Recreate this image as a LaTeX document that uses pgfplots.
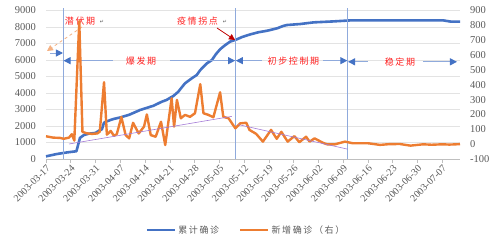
\documentclass[border=0pt]{standalone}
\usepackage{pgfplots}
\pgfplotsset{compat=1.18}
\usepackage{fontspec}
\setmainfont{Liberation Serif}
\newfontfamily\cjk[LetterSpace=18]{Noto Sans CJK SC}
\newfontfamily\dejavu{DejaVu Sans}
\usetikzlibrary{arrows.meta}
\definecolor{cblue}{HTML}{4472C4}
\definecolor{corange}{HTML}{ED7D31}
\definecolor{cgrid}{HTML}{E3E3E3}
\definecolor{caxis}{HTML}{BFBFBF}
\definecolor{ctext}{HTML}{595959}
\definecolor{cpurple}{HTML}{A47BD6}
\definecolor{carrow}{HTML}{8FAADC}
\definecolor{cred}{HTML}{FF2020}
\definecolor{cdarkred}{HTML}{C00000}
\definecolor{clorange}{HTML}{F4B183}
\definecolor{cvline}{HTML}{8FAADC}
\begin{document}
\begin{tikzpicture}
\useasboundingbox (0,0) rectangle (500pt,240pt);
\begin{axis}[
  at={(46pt,81pt)}, anchor=south west,
  scale only axis, width=414pt, height=148.5pt,
  xmin=0, xmax=117, ymin=0, ymax=9000,
  clip=false,
  axis x line*=bottom, axis y line*=left,
  y axis line style={draw=none},
  x axis line style={draw=caxis, line width=0.8pt},
  xtick={0,7,...,112},
  xticklabels={2003-03-17,2003-03-24,2003-03-31,2003-04-07,2003-04-14,2003-04-21,2003-04-28,2003-05-05,2003-05-12,2003-05-19,2003-05-26,2003-06-02,2003-06-09,2003-06-16,2003-06-23,2003-06-30,2003-07-07},
  x tick label style={rotate=45, anchor=north east, font=\fontsize{10}{12}\selectfont, text=ctext, inner sep=1pt},
  ytick={0,1000,...,9000},
  y tick label style={font=\fontsize{10.5}{12}\selectfont, text=ctext, xshift=-2.5pt},
  ymajorgrids, grid style={cgrid, line width=0.6pt},
  tick align=outside, major tick length=4pt,
  xtick style={draw=caxis, line width=0.6pt},
  ytick style={draw=none},
  /pgf/number format/assume math mode=true,
  /pgf/number format/1000 sep={},
]
\addplot[cblue, line width=2.6pt, line join=round] coordinates {
(0,160) (3,300) (6,400) (8.6,470) (9.6,1280) (10.7,1450) (12,1530) (14,1580)
(15,1720) (15.8,1800) (16.4,2200) (17,2270) (19,2420) (21,2520) (23.5,2680)
(26.6,2970) (28.5,3100) (30.4,3230) (32.7,3470) (34.1,3580) (35,3700) (36,3820)
(37.4,4080) (38.2,4300) (39.3,4590) (41.2,4890) (42.6,5090) (43.6,5390)
(45.5,5800) (46.9,6000) (48,6350) (49.2,6650) (50.5,6880) (52,7110) (53.9,7250)
(55.5,7400) (57.7,7550) (60,7680) (62.4,7770) (64,7850) (65.3,7920) (67,8060)
(68.1,8120) (71.8,8180) (75.6,8280) (81.3,8340) (86,8400) (112.3,8400)
(114.3,8330) (117,8330)
};
% vertical phase lines
\draw[cvline, line width=0.8pt] (axis cs:4.89,0) -- (axis cs:4.89,9152);
\draw[cvline, line width=0.8pt] (axis cs:53.55,0) -- (axis cs:53.55,9152);
\draw[cvline, line width=0.8pt] (axis cs:85.26,0) -- (axis cs:85.26,9152);
% phase arrows
\draw[carrow, line width=1pt, -{Triangle[length=7pt,width=7pt,fill=cblue,color=cblue]}] (axis cs:1.13,6424) -- (axis cs:4.8,6424);
\draw[carrow, line width=1pt, {Triangle[length=7pt,width=7pt,fill=cblue,color=cblue]}-] (axis cs:4.95,5960) -- (axis cs:18.93,5960);
\draw[carrow, line width=1pt, -{Triangle[length=7pt,width=7pt,fill=cblue,color=cblue]}] (axis cs:35.04,5960) -- (axis cs:53.45,5960);
\draw[carrow, line width=1pt, {Triangle[length=7pt,width=7pt,fill=cblue,color=cblue]}-] (axis cs:53.65,5960) -- (axis cs:61.04,5960);
\draw[carrow, line width=1pt, -{Triangle[length=7pt,width=7pt,fill=cblue,color=cblue]}] (axis cs:78.28,5960) -- (axis cs:85.16,5960);
\draw[carrow, line width=1pt, {Triangle[length=7pt,width=7pt,fill=cblue,color=cblue]}-] (axis cs:85.36,5890) -- (axis cs:91.0,5890);
\draw[carrow, line width=1pt, -{Triangle[length=7pt,width=7pt,fill=cblue,color=cblue]}] (axis cs:106.54,5890) -- (axis cs:116.15,5890);
\node[text=cred, font=\cjk\fontsize{9}{11}\selectfont, inner sep=0pt] at (axis cs:26.85,5960) {爆发期};
\node[text=cred, font=\cjk\fontsize{9}{11}\selectfont, inner sep=0pt] at (axis cs:69.94,5960) {初步控制期};
\node[text=cred, font=\cjk\fontsize{9}{11}\selectfont, inner sep=0pt] at (axis cs:100.04,5890) {稳定期};
% labels with arrows
\node[text=cred, font=\cjk\fontsize{9}{11}\selectfont, inner sep=0pt] at (axis cs:9.61,8364) {潜伏期};
\node[text=ctext, font=\dejavu\fontsize{5}{6}\selectfont, inner sep=0pt] at (axis cs:15.83,8280) {↵};
\draw[clorange, line width=0.8pt, dashed, -{Triangle[length=6pt,width=6pt,fill=clorange,color=clorange]}] (axis cs:10.17,8000) -- (axis cs:0.28,6545);
\node[text=cred, font=\cjk\fontsize{9}{11}\selectfont, inner sep=0pt] at (axis cs:42.81,8364) {疫情拐点};
\node[text=ctext, font=\dejavu\fontsize{5}{6}\selectfont, inner sep=0pt] at (axis cs:50.59,8280) {↵};
\draw[cdarkred, line width=0.8pt, -{Triangle[length=6pt,width=6pt]}] (axis cs:48.33,7939) -- (axis cs:53.41,7212);
\end{axis}
\begin{axis}[
  at={(46pt,81pt)}, anchor=south west,
  scale only axis, width=414pt, height=148.5pt,
  xmin=0, xmax=117, ymin=-100, ymax=900,
  clip=false,
  axis y line*=right, axis x line=none,
  y axis line style={draw=none},
  ytick={-100,0,...,900},
  y tick label style={font=\fontsize{10.5}{12}\selectfont, text=ctext, xshift=2.5pt},
  tick align=outside, major tick length=4pt,
  ytick style={draw=none},
  /pgf/number format/assume math mode=true,
  /pgf/number format/1000 sep={},
  legend style={at={(0.483,-0.478)}, anchor=center, draw=none, fill=none,
    font=\cjk\fontsize{9}{11}\selectfont, text=ctext,
    /tikz/every even column/.append style={column sep=18pt}},
  legend columns=2,
  legend image code/.code={\draw[#1] (0pt,0pt) -- (28pt,0pt);},
]
\addlegendimage{cblue, line width=2.6pt}
\addlegendentry{累计确诊}
\addplot[corange, line width=2.4pt, line join=round] coordinates {
(0,53) (2,44) (4,42) (5,36) (6.5,44) (7.3,67) (8,24) (9.4,828) (10.3,83)
(11.5,73) (13,69) (14.5,72) (15.2,84) (16.4,417) (17.2,64) (18.3,89) (19.2,56)
(20,67) (21.3,183) (22.5,61) (23.5,39) (24.6,144) (26.2,72) (27.7,118) (28.5,200)
(29.6,61) (31,50) (32.5,151) (33.7,-6) (35.5,309) (36.2,118) (37,298) (38.1,174)
(39.3,197) (40.7,184) (42.1,208) (43.6,404) (44.5,208) (45.9,197) (47.3,181)
(49.2,349) (50.1,184) (51.6,174) (53.5,107) (54.9,140) (56.6,144) (57.5,96)
(59.4,69) (61.3,17) (63.6,96) (65.2,36) (66.5,83) (68.3,17) (70.2,54) (71.6,13)
(73.5,50) (74.5,17) (75.9,39) (78.2,10) (79.4,-1) (81.5,-2) (84.5,17) (86.7,6)
(91,6) (94.4,-5) (97,0) (100,1) (103,-10) (106.6,-1) (109,-4) (112,-1)
(114,-3) (117,0)
};
\addlegendentry{新增确诊（右）}
\addplot[cpurple, line width=0.6pt, forget plot] coordinates {(6.5,1) (52.5,187)};
\addplot[cpurple, line width=0.6pt, forget plot] coordinates {(54.3,132) (85.3,-34)};
\end{axis}
\end{tikzpicture}
\end{document}
